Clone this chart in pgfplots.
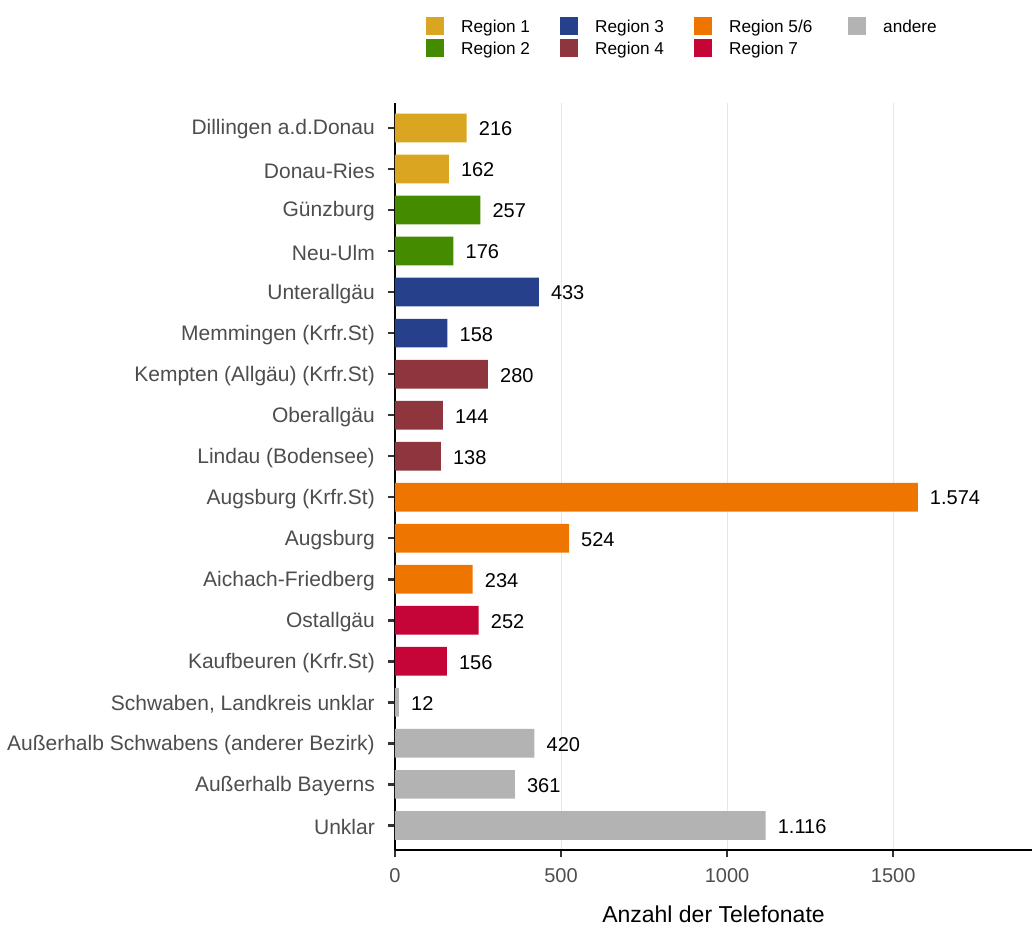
\documentclass[border=0pt]{standalone}
\usepackage{pgfplots}
\pgfplotsset{compat=1.18}
\usepackage{fontspec}
\setmainfont{Liberation Sans}
\definecolor{rA}{HTML}{DAA520}
\definecolor{rB}{HTML}{458B00}
\definecolor{rC}{HTML}{27408B}
\definecolor{rD}{HTML}{8E353D}
\definecolor{rE}{HTML}{EE7600}
\definecolor{rF}{HTML}{C50537}
\definecolor{rG}{HTML}{B3B3B3}
\definecolor{tickgray}{HTML}{4D4D4D}
\definecolor{gridgray}{HTML}{E6E6E6}
\begin{document}
\begin{tikzpicture}[x=1pt,y=1pt]
\useasboundingbox (0,0) rectangle (1034,926);
\begin{axis}[
  at={(395pt,76pt)}, anchor=south west,
  scale only axis, width=637pt, height=746.6pt,
  xbar, bar width=0.7, bar shift=0pt,
  xmin=0, xmax=1918, ymin=0.4, ymax=18.6,
  y dir=reverse,
  axis x line*=bottom, axis y line*=left,
  axis line style={black, line width=2pt, -},
  xtick={0,500,1000,1500},
  ytick={1,...,18},
  yticklabels={Dillingen a.d.Donau,Donau-Ries,Günzburg,Neu-Ulm,Unterallgäu,Memmingen (Krfr.St),Kempten (Allgäu) (Krfr.St),Oberallgäu,Lindau (Bodensee),Augsburg (Krfr.St),Augsburg,Aichach-Friedberg,Ostallgäu,Kaufbeuren (Krfr.St),{Schwaben, Landkreis unklar},Außerhalb Schwabens (anderer Bezirk),Außerhalb Bayerns,Unklar},
  tick align=outside, major tick length=7pt,
  tick style={line width=2.5pt, color=black!80},
  xtick pos=bottom, ytick pos=left,
  minor tick num=0,
  xmajorgrids, grid style={gridgray, line width=1pt},
  /pgf/number format/assume math mode=true,
  x tick label style={font=\fontsize{20}{24}\selectfont, text=tickgray, /pgf/number format/1000 sep={}, inner sep=0pt, anchor=north, yshift=-11pt},
  y tick label style={font=\fontsize{21}{25}\selectfont, text=tickgray, inner sep=0pt, anchor=east, xshift=-13pt, yshift=-1.5pt},
  scaled x ticks=false,
  xlabel={Anzahl der Telefonate},
  xlabel style={font=\fontsize{23}{27}\selectfont, at={(axis description cs:0.5,0)}, anchor=base, yshift=-72pt, inner sep=0pt},
  point meta=x,
  nodes near coords={\pgfmathprintnumber[fixed,precision=0,1000 sep={.},assume math mode=true]{\pgfplotspointmeta}},
  every node near coord/.append style={font=\fontsize{20}{24}\selectfont, text=black, anchor=west, inner sep=0pt, xshift=12pt, yshift=-1pt},
  legend columns=4,
  legend style={draw=none, fill=none, at={(axis description cs:0.0487,1.1157)}, anchor=north west, inner sep=0pt, row sep=4pt, column sep=0pt, font=\fontsize{17.2}{20}\selectfont, nodes={inner sep=0pt, anchor=base west}},
  legend cell align=left,
  legend image code/.code={\fill[#1, draw=none] (0pt,-3pt) rectangle (18pt,15pt); \path[draw=none,fill=none] (0pt,0pt) rectangle (35pt,1pt);},
]
\addplot[fill=rA, draw=none] coordinates {(216,1) (162,2)};
\addlegendentry{\makebox[99pt][l]{Region 1}}
\addplot[fill=rC, draw=none] coordinates {(433,5) (158,6)};
\addlegendentry{\makebox[99pt][l]{Region 3}}
\addplot[fill=rE, draw=none] coordinates {(1574,10) (524,11) (234,12)};
\addlegendentry{\makebox[119pt][l]{Region 5/6}}
\addplot[fill=rG, draw=none] coordinates {(12,15) (420,16) (361,17) (1116,18)};
\addlegendentry{andere}
\addplot[fill=rB, draw=none] coordinates {(257,3) (176,4)};
\addlegendentry{\makebox[99pt][l]{Region 2}}
\addplot[fill=rD, draw=none] coordinates {(280,7) (144,8) (138,9)};
\addlegendentry{\makebox[99pt][l]{Region 4}}
\addplot[fill=rF, draw=none] coordinates {(252,13) (156,14)};
\addlegendentry{\makebox[119pt][l]{Region 7}}
\end{axis}
\end{tikzpicture}
\end{document}
